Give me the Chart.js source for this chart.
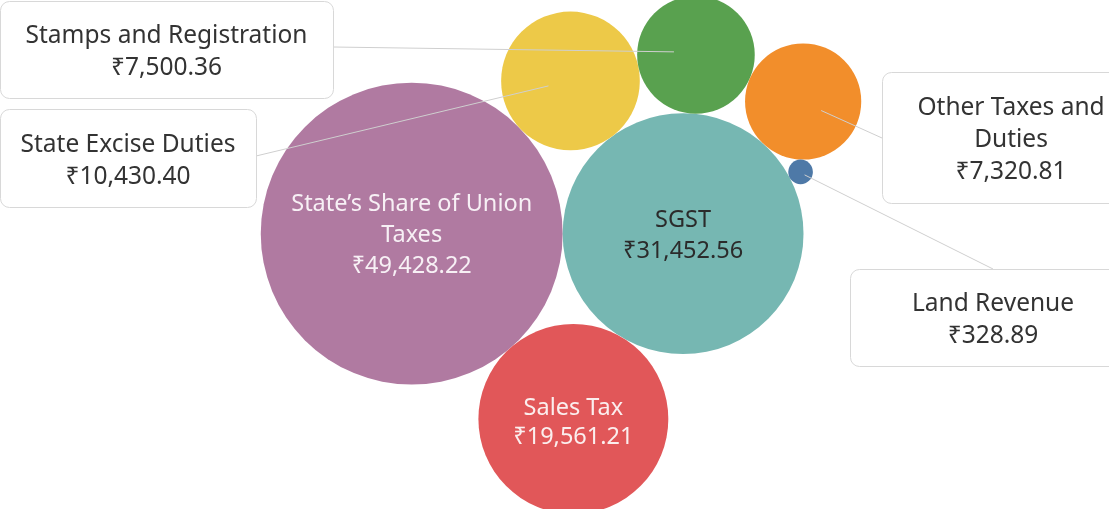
<!DOCTYPE html>
<html>
<head>
<meta charset="utf-8">
<script src="https://cdn.jsdelivr.net/npm/chart.js@4.4.1/dist/chart.umd.min.js"></script>
<style>
  html, body { margin: 0; padding: 0; background: #fff; }
  #wrap { width: 1109px; height: 509px; position: relative; }
</style>
</head>
<body>
<div id="wrap"><canvas id="myChart"></canvas></div>
<script>
// revenue heads and amounts (₹ crore)
const categories = ['State\u2019s Share of Union Taxes', 'SGST', 'Sales Tax', 'State Excise Duties', 'Stamps and Registration', 'Other Taxes and Duties', 'Land Revenue'];
const values = [49428.22, 31452.56, 19561.21, 10430.40, 7500.36, 7320.81, 328.89];
const colors = ['#B07AA1', '#76B7B2', '#E15759', '#EDC948', '#59A14F', '#F28E2B', '#4E79A7'];

// bubble area ~ value
const radiusPerRoot = 0.679;

// packing: each bubble touches two earlier ones [a, b, side]
const packRules = [null, null, [0, 1, 1], [0, 1, -1], [3, 1, -1], [4, 1, -1], [1, 5, 1]];

const fontFamily = "'Noto Sans', 'DejaVu Sans', sans-serif";

function packBubbles() {
    const r = values.map(v => Math.sqrt(v) * radiusPerRoot);
    const pts = [{x: 0, y: 0}, {x: r[0] + r[1], y: 0}];
    for (let i = 2; i < values.length; i++) {
        const [a, b, side] = packRules[i];
        const A = pts[a], B = pts[b];
        const dA = r[a] + r[i], dB = r[b] + r[i];
        const dx = B.x - A.x, dy = B.y - A.y;
        const d = Math.hypot(dx, dy);
        const ux = dx / d, uy = dy / d;
        const along = (dA * dA - dB * dB + d * d) / (2 * d);
        const h = Math.sqrt(Math.max(0, dA * dA - along * along));
        pts.push({x: A.x + along * ux - side * h * uy, y: A.y + along * uy + side * h * ux});
    }
    // center the pack on its bounding box
    let x0 = Infinity, x1 = -Infinity, y0 = Infinity, y1 = -Infinity;
    pts.forEach((p, i) => {
        x0 = Math.min(x0, p.x - r[i]); x1 = Math.max(x1, p.x + r[i]);
        y0 = Math.min(y0, p.y - r[i]); y1 = Math.max(y1, p.y + r[i]);
    });
    const cx = (x0 + x1) / 2, cy = (y0 + y1) / 2;
    return pts.map((p, i) => ({x: p.x - cx, y: p.y - cy, r: r[i]}));
}

function money(v) {
    return '\u20B9' + v.toLocaleString('en-US', {minimumFractionDigits: 2, maximumFractionDigits: 2});
}

function wrap(ctx, text, maxW) {
    const words = text.split(' ');
    const lines = [];
    let cur = '';
    words.forEach(w => {
        const t = cur ? cur + ' ' + w : w;
        if (cur && ctx.measureText(t).width > maxW) { lines.push(cur); cur = w; } else { cur = t; }
    });
    lines.push(cur);
    return lines;
}

// labels drawn inside the big bubbles
const insideLabels = [
    {index: 0, color: '#f7f0f5', wrapW: 262, lineH: 31, shift: 2},
    {index: 1, color: '#2b2b2b', wrapW: 200, lineH: 31, shift: 2.5},
    {index: 2, color: '#fbeeee', wrapW: 200, lineH: 29, shift: 3.5}
];
// tooltip-like callouts for the smaller ones
const callouts = [
    {index: 3, box: [0, 109, 256, 98], from: [256, 156], dx: -22, dy: 5, wrapW: 240},
    {index: 4, box: [0, 1, 333, 97], from: [333, 47], dx: -22, dy: -3, wrapW: 320},
    {index: 5, box: [882, 72, 258, 131], from: [882, 138], dx: 18, dy: 9, wrapW: 200},
    {index: 6, box: [850, 269, 286, 97], from: [993, 269], dx: 4, dy: 3, wrapW: 260}
];

const labelPlugin = {
    id: 'labels',
    afterDatasetsDraw(chart) {
        const ctx = chart.ctx;
        const meta = chart.getDatasetMeta(0);
        ctx.save();
        ctx.textAlign = 'center';
        ctx.textBaseline = 'middle';

        ctx.font = '23.5px ' + fontFamily;
        insideLabels.forEach(l => {
            const el = meta.data[l.index];
            const lines = wrap(ctx, categories[l.index], l.wrapW).concat([money(values[l.index])]);
            ctx.fillStyle = l.color;
            const top = el.y + l.shift - (lines.length - 1) * l.lineH / 2;
            lines.forEach((s, k) => ctx.fillText(s, el.x, top + k * l.lineH));
        });

        ctx.font = '24.5px ' + fontFamily;
        callouts.forEach(c => {
            const el = meta.data[c.index];
            ctx.strokeStyle = '#cfcfcf';
            ctx.lineWidth = 1;
            ctx.beginPath();
            ctx.moveTo(c.from[0], c.from[1]);
            ctx.lineTo(el.x + c.dx, el.y + c.dy);
            ctx.stroke();

            const [bx, by, bw, bh] = c.box;
            ctx.fillStyle = '#ffffff';
            ctx.strokeStyle = '#d8d8d8';
            ctx.beginPath();
            ctx.roundRect(bx + 0.5, by + 0.5, bw, bh, 9);
            ctx.fill();
            ctx.stroke();

            const lines = wrap(ctx, categories[c.index], c.wrapW).concat([money(values[c.index])]);
            ctx.fillStyle = '#333333';
            const top = by + bh / 2 + 3 - (lines.length - 1) * 16;
            lines.forEach((s, k) => ctx.fillText(s, bx + bw / 2, top + k * 32));
        });
        ctx.restore();
    }
};

const packed = packBubbles();

let ctx = document.getElementById('myChart').getContext('2d');
let chart = new Chart(ctx, {
    type: 'bubble',
    data: {
        labels: categories,
        datasets: [{
            data: packed,
            backgroundColor: colors,
            borderWidth: 0,
            hoverBorderWidth: 0,
            clip: false
        }]
    },
    options: {
        responsive: true,
        maintainAspectRatio: false,
        animation: false,
        events: [],
        layout: {padding: 0, autoPadding: false},
        plugins: {legend: {display: false}, tooltip: {enabled: false}},
        scales: {
            x: {display: false, min: -561, max: 548},
            y: {display: false, min: -255, max: 254, reverse: true}
        }
    },
    plugins: [labelPlugin]
});
</script>
</body>
</html>
